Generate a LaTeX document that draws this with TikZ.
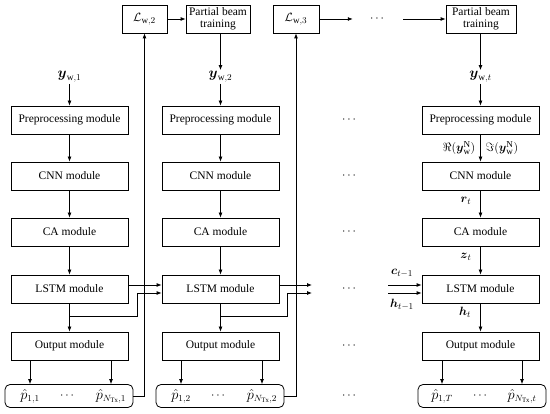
\documentclass[tikz,border=0pt]{standalone}
\usepackage{amsmath,amssymb}
\usepackage{fontspec}
\setmainfont{Liberation Serif}
\usetikzlibrary{positioning,arrows.meta,calc}
\tikzset{
  flowarrow/.style={-{Latex[length=5pt,width=4pt]}, line width=0.8pt},
  flowline/.style={line width=0.8pt},
  modnode/.style={draw, line width=0.8pt, minimum width=117pt, minimum height=28pt, inner sep=1pt, align=center},
  topnode/.style={draw, line width=0.8pt, minimum height=28pt, inner sep=1pt, align=center},
  resnode/.style={draw, rounded corners=5pt, line width=0.8pt, minimum width=128pt, minimum height=23pt},
  dotnode/.style={inner sep=0pt, minimum width=50pt},
  mathlabel/.style={inner sep=1pt, font=\fontsize{13.5}{14}\selectfont},
  sidelabel/.style={inner sep=0.5pt, font=\fontsize{13}{14}\selectfont}
}

\begin{document}
\begin{tikzpicture}[x=1pt, y=-1pt, >=Latex, every node/.style={font=\fontsize{11.5}{12.5}\selectfont}]
      \useasboundingbox (0,0) rectangle (550,414);
      % first step
      \node[mathlabel] (y1) at (69.5,77) {$\boldsymbol{y}_{\mathrm{w},1}$};
      \node[modnode] (pre1) at (69.5,120) {Preprocessing module};
      \node[modnode] (cnn1) at (69.5,176) {CNN module};
      \node[modnode] (ca1) at (69.5,232) {CA module};
      \node[modnode] (lstm1) at (69.5,289) {LSTM module};
      \node[modnode] (out1) at (69.5,346) {Output module};
      \node[resnode] (res1) at (69,396) {};
      \node[mathlabel] (pa1) at (30,396) {$\hat{p}_{1,1}$};
      \node (pd1) at (68,396) {$\cdots$};
      \node[mathlabel] (pb1) at (111,396) {$\hat{p}_{N_{\mathrm{Tx}},1}$};
      \coordinate (j1) at (69.5,316);
      \coordinate (k1) at (137,316);
      % second step
      \node[topnode, minimum width=45pt] (loss2) at (144.5,19) {\fontsize{13}{14}\selectfont$\mathcal{L}_{\mathrm{w},2}$};
      \node[topnode, minimum width=64pt] (pbt2) at (218,19) {Partial beam\\training};
      \node[mathlabel] (y2) at (220.5,77) {$\boldsymbol{y}_{\mathrm{w},2}$};
      \node[modnode] (pre2) at (220.5,120) {Preprocessing module};
      \node[modnode] (cnn2) at (220.5,176) {CNN module};
      \node[modnode] (ca2) at (220.5,232) {CA module};
      \node[modnode] (lstm2) at (220.5,289) {LSTM module};
      \node[modnode] (out2) at (220.5,346) {Output module};
      \node[resnode] (res2) at (220,396) {};
      \node[mathlabel] (pa2) at (181,396) {$\hat{p}_{1,2}$};
      \node (pd2) at (219,396) {$\cdots$};
      \node[mathlabel] (pb2) at (262,396) {$\hat{p}_{N_{\mathrm{Tx}},2}$};
      \coordinate (j2) at (220.5,316);
      \coordinate (k2) at (287,316);
      \coordinate (e1) at (312,285);
      \coordinate (e2) at (312,293);
      % skipped steps
      \node[topnode, minimum width=46pt] (loss3) at (296,19) {\fontsize{13}{14}\selectfont$\mathcal{L}_{\mathrm{w},3}$};
      \node[dotnode] (dtop) at (378,19) {$\cdots$};
      \node (dpre) at (350,120) {$\cdots$};
      \node (dcnn) at (350,176) {$\cdots$};
      \node (dca) at (350,232) {$\cdots$};
      \node (dlstm) at (350,289) {$\cdots$};
      \node (dout) at (350,346) {$\cdots$};
      \node (dres) at (350,396) {$\cdots$};
      % step t
      \node[topnode, minimum width=70pt] (pbt3) at (481,19) {Partial beam\\training};
      \node[mathlabel] (y3) at (480.5,77) {$\boldsymbol{y}_{\mathrm{w},t}$};
      \node[modnode] (pre3) at (480.5,120) {Preprocessing module};
      \node[modnode] (cnn3) at (480.5,176) {CNN module};
      \node[modnode] (ca3) at (480.5,232) {CA module};
      \node[modnode] (lstm3) at (480.5,289) {LSTM module};
      \node[modnode] (out3) at (480.5,346) {Output module};
      \node[resnode] (res3) at (482,396) {};
      \node[mathlabel] (pa3) at (442,396) {$\hat{p}_{1,T}$};
      \node (pd3) at (481,396) {$\cdots$};
      \node[mathlabel] (pb3) at (522,396) {$\hat{p}_{N_{\mathrm{Tx}},t}$};
      \node[sidelabel, anchor=east] (re3) at (476,148) {$\Re(\boldsymbol{y}_{\mathrm{w}}^{\mathrm{N}})$};
      \node[sidelabel, anchor=west] (im3) at (485,148) {$\Im(\boldsymbol{y}_{\mathrm{w}}^{\mathrm{N}})$};
      \node[sidelabel] (r3) at (466,201) {$\boldsymbol{r}_t$};
      \node[sidelabel] (z3) at (466,257) {$\boldsymbol{z}_t$};
      \node[sidelabel] (h3) at (465,312) {$\boldsymbol{h}_t$};
      \node[sidelabel] (cl3) at (402,273) {$\boldsymbol{c}_{t-1}$};
      \node[sidelabel] (hl3) at (402,305) {$\boldsymbol{h}_{t-1}$};
      \coordinate (c3) at (388,285);
      \coordinate (hh3) at (388,293);
      % connectors
      \draw[flowarrow] (y1) -- (pre1);
      \draw[flowarrow] (pre1) -- (cnn1);
      \draw[flowarrow] (cnn1) -- (ca1);
      \draw[flowarrow] (ca1) -- (lstm1);
      \draw[flowline] (lstm1) -- (j1);
      \draw[flowarrow] (j1) -- (out1);
      \draw[flowarrow] (out1.south -| pa1) -- (pa1 |- res1.north);
      \draw[flowarrow] (out1.south -| pb1) -- (pb1 |- res1.north);
      \draw[flowarrow] (res1.east) -| (loss2.south);
      \draw[flowarrow] ([yshift=4pt]lstm1.east) -- ([yshift=4pt]lstm2.west);
      \draw[flowarrow] (j1) -- (k1) |- ([yshift=-4pt]lstm2.west);
      \draw[flowarrow] (loss2) -- (pbt2);
      \draw[flowarrow] (pbt2.south -| y2) -- (y2);
      \draw[flowarrow] (y2) -- (pre2);
      \draw[flowarrow] (pre2) -- (cnn2);
      \draw[flowarrow] (cnn2) -- (ca2);
      \draw[flowarrow] (ca2) -- (lstm2);
      \draw[flowline] (lstm2) -- (j2);
      \draw[flowarrow] (j2) -- (out2);
      \draw[flowarrow] (out2.south -| pa2) -- (pa2 |- res2.north);
      \draw[flowarrow] (out2.south -| pb2) -- (pb2 |- res2.north);
      \draw[flowarrow] (res2.east) -| (loss3.south);
      \draw[flowarrow] ([yshift=4pt]lstm2.east) -- (e1);
      \draw[flowarrow] (j2) -- (k2) |- (e2);
      \draw[flowarrow] (loss3) -- (dtop);
      \draw[flowarrow] (dtop) -- (pbt3);
      \draw[flowarrow] (pbt3.south -| y3) -- (y3);
      \draw[flowarrow] (y3) -- (pre3);
      \draw[flowarrow] (pre3) -- (cnn3);
      \draw[flowarrow] (cnn3) -- (ca3);
      \draw[flowarrow] (ca3) -- (lstm3);
      \draw[flowarrow] (c3) -- ([yshift=4pt]lstm3.west);
      \draw[flowarrow] (hh3) -- ([yshift=-4pt]lstm3.west);
      \draw[flowarrow] (lstm3) -- (out3);
      \draw[flowarrow] (out3.south -| pa3) -- (pa3 |- res3.north);
      \draw[flowarrow] (out3.south -| pb3) -- (pb3 |- res3.north);
    \end{tikzpicture}
\end{document}
